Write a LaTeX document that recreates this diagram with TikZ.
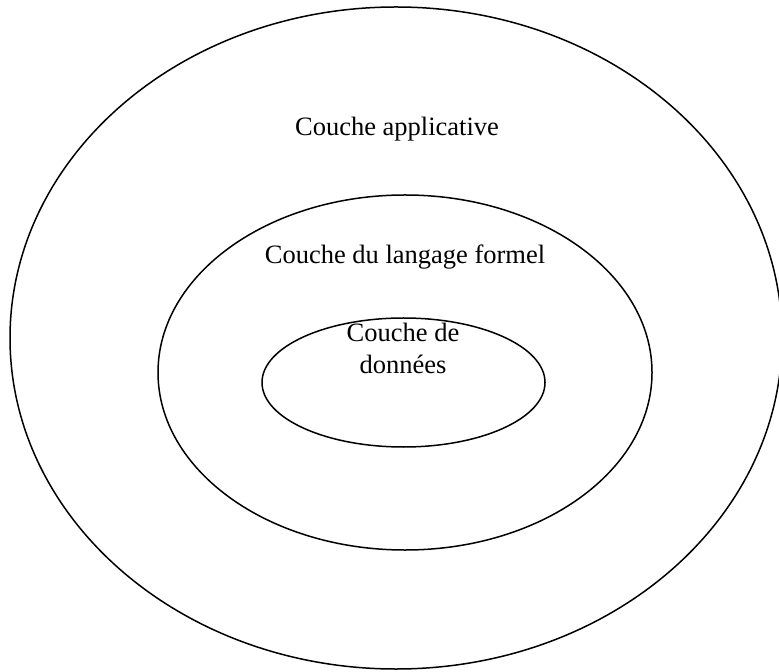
\documentclass[tikz,border=0pt]{standalone}
\usepackage{fontspec}
\setmainfont{Liberation Serif}
\usetikzlibrary{positioning}

\tikzset{
	layer/.style={line width=0.75pt},
	layerlabel/.style={anchor=base, inner sep=0pt, align=center,
		font=\fontsize{13.25}{15.5}\selectfont}
}

\begin{document}
\begin{tikzpicture}[x=0.5pt, y=-0.5pt, line cap=round, line join=round]

\useasboundingbox (0,0) rectangle (779,672);
\clip (0,0) rectangle (779,672);

%========================
% outer layer
%========================
\draw[layer] (396,338) ellipse ({386*0.5pt} and {331*0.5pt});
\node[layerlabel] (appli) at (397,136) {Couche applicative};

%========================
% middle layer
%========================
\draw[layer] (405,372.5) ellipse ({247*0.5pt} and {177.5*0.5pt});
\node[layerlabel] (formel) at (405,263.5) {Couche du langage formel};

%========================
% inner layer
%========================
\draw[layer] (403.5,382.5) ellipse ({141.5*0.5pt} and {64.5*0.5pt});
% base of a two-line node sits on its last line
\node[layerlabel] (donnees) at (403,373) {Couche de\\données};

\end{tikzpicture}
\end{document}
